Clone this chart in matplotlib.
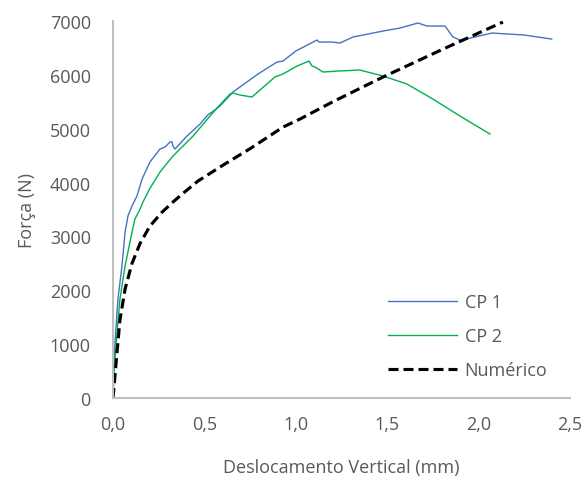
import matplotlib
matplotlib.use("Agg")
import matplotlib.pyplot as plt
from matplotlib.ticker import FuncFormatter

# Ensaio CP 1
cp1_x = [0.0, 0.005, 0.011, 0.027, 0.049, 0.066, 0.082, 0.104, 0.131, 0.159, 0.202,
         0.257, 0.284, 0.312, 0.322, 0.328, 0.339, 0.405, 0.476, 0.52, 0.542, 0.585,
         0.656, 0.793, 0.897, 0.93, 1.0, 1.105, 1.116, 1.127, 1.2, 1.242, 1.313,
         1.477, 1.57, 1.668, 1.718, 1.816, 1.86, 1.898, 1.95, 2.073, 2.25, 2.40]
cp1_y = [0, 500, 1040, 1838, 2451, 3082, 3380, 3565, 3750, 4066, 4382,
         4623, 4660, 4753, 4760, 4680, 4623, 4865, 5087, 5260, 5310, 5421,
         5681, 6016, 6238, 6257, 6443, 6628, 6647, 6610, 6610, 6591, 6703,
         6814, 6870, 6963, 6907, 6907, 6703, 6647, 6680, 6777, 6740, 6665]

# Ensaio CP 2
cp2_x = [0.0, 0.005, 0.022, 0.038, 0.066, 0.104, 0.12, 0.148, 0.164, 0.2, 0.257,
         0.328, 0.438, 0.531, 0.574, 0.64, 0.656, 0.695, 0.76, 0.886, 0.93,
         1.007, 1.072, 1.089, 1.105, 1.149, 1.231, 1.35, 1.477, 1.608, 1.75,
         1.898, 2.062]
cp2_y = [0, 450, 1225, 1838, 2451, 3082, 3323, 3509, 3639, 3880, 4196,
         4493, 4865, 5236, 5403, 5644, 5663, 5626, 5589, 5960, 6016,
         6164, 6257, 6164, 6145, 6053, 6071, 6090, 5979, 5830, 5551,
         5236, 4902]

# Modelo numérico
num_x = [0.0, 0.011, 0.022, 0.038, 0.066, 0.104, 0.148, 0.202, 0.268, 0.328,
         0.383, 0.465, 0.6, 0.75, 0.93, 1.023, 1.2, 1.477, 1.8, 2.133]
num_y = [0, 420, 850, 1450, 2024, 2500, 2870, 3193, 3450, 3639,
         3800, 4029, 4320, 4630, 5030, 5180, 5496, 5960, 6470, 6981]

x_ticks = [0.0, 0.5, 1.0, 1.5, 2.0, 2.5]
y_ticks = [0, 1000, 2000, 3000, 4000, 5000, 6000, 7000]

plt.rcParams['font.family'] = ['Open Sans', 'DejaVu Sans']
text_color = '#595959'
fs = 13

fig = plt.figure(figsize=(5.84, 4.85), dpi=100)
ax = fig.add_axes([0.1935, 0.1773, 0.7825, 0.7773])

ax.plot(cp1_x, cp1_y, color='#4472C4', lw=1.0, label='CP 1')
ax.plot(cp2_x, cp2_y, color='#00B050', lw=1.0, label='CP 2')
ax.plot(num_x, num_y, color='black', lw=2.25, linestyle=(0, (3.2, 1.6)), label='Numérico')

ax.set_xlim(0, 2.5)
ax.set_ylim(0, 7000)
ax.set_xticks(x_ticks)
ax.set_yticks(y_ticks)
ax.xaxis.set_major_formatter(FuncFormatter(lambda v, p: f"{v:.1f}".replace('.', ',')))
ax.yaxis.set_major_formatter(FuncFormatter(lambda v, p: f"{int(v)}"))
ax.tick_params(length=0, labelsize=fs, colors=text_color)
ax.tick_params(axis='y', pad=16)
ax.tick_params(axis='x', pad=12)

for s in ['top', 'right']:
    ax.spines[s].set_visible(False)
for s in ['left', 'bottom']:
    ax.spines[s].set_color('#BFBFBF')
    ax.spines[s].set_linewidth(1.5)

ax.set_xlabel('Deslocamento Vertical (mm)', fontsize=fs, color=text_color, labelpad=18)
ax.set_ylabel('Força (N)', fontsize=fs, color=text_color, labelpad=10)

leg = ax.legend(loc='upper left', bbox_to_anchor=(0.652, 0.408), bbox_transform=fig.transFigure,
                frameon=False, fontsize=fs, handlelength=3.8, labelspacing=0.89,
                handletextpad=0.45, borderaxespad=0)
for t in leg.get_texts():
    t.set_color(text_color)

fig.savefig('out.png', dpi=100)
